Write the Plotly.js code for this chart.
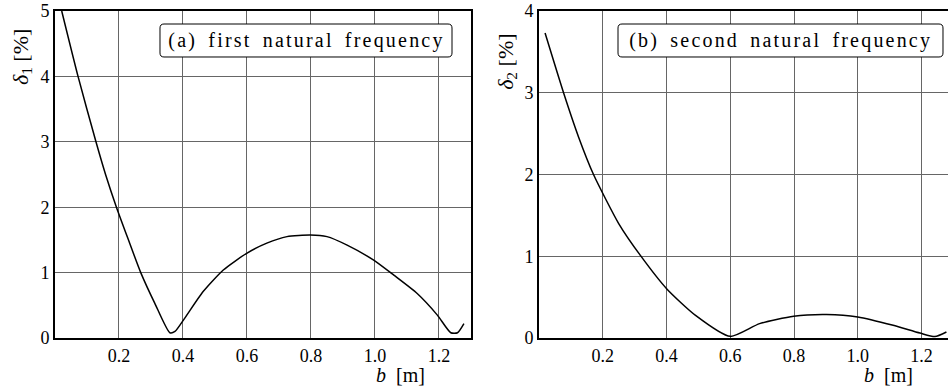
<!DOCTYPE html>
<html>
<head>
<meta charset="utf-8">
<script src="https://cdn.plot.ly/plotly-3.0.1.min.js"></script>
<style>
html,body{margin:0;padding:0;background:#fff;}
#chart{width:948px;height:389px;}
svg text{font-family:"Liberation Serif","Tinos","Nimbus Roman","Nimbus Roman No9 L","FreeSerif","Noto Serif","DejaVu Serif","Times New Roman",Times,serif !important;}
.annotation[data-index="0"] .annotation-text,
.annotation[data-index="1"] .annotation-text{letter-spacing:2.2px;word-spacing:4px;}
</style>
</head>
<body>
<div id="chart"></div>
<script>
// Panel (a): first natural frequency
const b1 = [0.021, 0.072, 0.128, 0.158, 0.192, 0.228, 0.268, 0.312, 0.359, 0.375, 0.405, 0.463, 0.526, 0.599, 0.662, 0.725, 0.798, 0.85, 0.913, 0.996, 1.059, 1.132, 1.195, 1.237, 1.258, 1.278];
const delta1 = [5.0, 4.0, 3.0, 2.5, 2.0, 1.52, 1.0, 0.53, 0.08, 0.1, 0.3, 0.71, 1.04, 1.295, 1.45, 1.55, 1.575, 1.55, 1.42, 1.19, 0.96, 0.68, 0.35, 0.08, 0.08, 0.22];
// Panel (b): second natural frequency
const b2 = [0.019, 0.077, 0.124, 0.171, 0.25, 0.318, 0.401, 0.49, 0.6, 0.692, 0.799, 0.902, 1.0, 1.111, 1.195, 1.242, 1.278];
const delta2 = [3.73, 3.0, 2.46, 2.0, 1.40, 1.01, 0.60, 0.28, 0.02, 0.176, 0.266, 0.286, 0.257, 0.155, 0.06, 0.017, 0.073];

const xTickVals = [0.2, 0.4, 0.6, 0.8, 1.0, 1.2];
const xTickText = ['0.2', '0.4', '0.6', '0.8', '1.0', '1.2'];
const y1TickVals = [0, 1, 2, 3, 4, 5];
const y2TickVals = [0, 1, 2, 3, 4];

const panelLabels = ['(a) first natural frequency', '(b) second natural frequency'];
const yTitles = ['<i>δ</i><sub>1</sub> [%]', '<i>δ</i><sub>2</sub> [%]'];
const xTitle = '<i>b</i>  [m]';

const serif = "Liberation Serif, Times New Roman, serif";
const lineStyle = {color: '#000', width: 1.5, shape: 'spline', smoothing: 0.6};

const traces = [
  {x: b1, y: delta1, xaxis: 'x', yaxis: 'y', mode: 'lines', line: lineStyle, hoverinfo: 'skip'},
  {x: b2, y: delta2, xaxis: 'x2', yaxis: 'y2', mode: 'lines', line: lineStyle, hoverinfo: 'skip'}
];

const axisCommon = {
  showline: true, linecolor: '#000', linewidth: 2,
  showgrid: true, gridcolor: '#666', gridwidth: 1,
  zeroline: false, ticks: '', ticklen: 0,
  tickfont: {family: serif, size: 18, color: '#000'},
  fixedrange: true
};

function roundedBox(x0, x1, y0, y1, r) {
  // page pixels converted to paper coordinates
  const W = 893, H = 327, L = 55, B = 338;
  const px = v => ((v - L) / W).toFixed(5);
  const py = v => ((B - v) / H).toFixed(5);
  return 'M ' + px(x0 + r) + ',' + py(y0) +
    ' L ' + px(x1 - r) + ',' + py(y0) +
    ' Q ' + px(x1) + ',' + py(y0) + ' ' + px(x1) + ',' + py(y0 + r) +
    ' L ' + px(x1) + ',' + py(y1 - r) +
    ' Q ' + px(x1) + ',' + py(y1) + ' ' + px(x1 - r) + ',' + py(y1) +
    ' L ' + px(x0 + r) + ',' + py(y1) +
    ' Q ' + px(x0) + ',' + py(y1) + ' ' + px(x0) + ',' + py(y1 - r) +
    ' L ' + px(x0) + ',' + py(y0 + r) +
    ' Q ' + px(x0) + ',' + py(y0) + ' ' + px(x0 + r) + ',' + py(y0) + ' Z';
}

const layout = {
  width: 948, height: 389,
  margin: {l: 55, r: 0, t: 11, b: 51},
  paper_bgcolor: '#fff', plot_bgcolor: '#fff',
  showlegend: false,
  font: {family: serif, color: '#000'},
  xaxis: Object.assign({}, axisCommon, {domain: [0, 0.4658], range: [0, 1.3], mirror: true,
    tickvals: xTickVals, ticktext: xTickText, anchor: 'y'}),
  yaxis: Object.assign({}, axisCommon, {domain: [0, 1], range: [0, 5], mirror: true,
    tickvals: y1TickVals, anchor: 'x'}),
  xaxis2: Object.assign({}, axisCommon, {domain: [0.542, 1], range: [0, 1.283], mirror: true,
    tickvals: xTickVals, ticktext: xTickText, anchor: 'y2'}),
  yaxis2: Object.assign({}, axisCommon, {domain: [0, 1], range: [0, 4], mirror: false,
    tickvals: y2TickVals, anchor: 'x2'}),
  shapes: [
    {type: 'path', xref: 'paper', yref: 'paper', path: roundedBox(160, 452, 24, 57, 4),
     line: {color: '#000', width: 1}, fillcolor: '#fff', layer: 'above'},
    {type: 'path', xref: 'paper', yref: 'paper', path: roundedBox(618, 943, 24, 57, 4),
     line: {color: '#000', width: 1}, fillcolor: '#fff', layer: 'above'}
  ],
  annotations: [
    {text: panelLabels[0], xref: 'paper', yref: 'paper', x: 0.2816, y: 0.9097,
     xanchor: 'center', yanchor: 'middle', showarrow: false,
     font: {family: serif, size: 20, color: '#000'}},
    {text: panelLabels[1], xref: 'paper', yref: 'paper', x: 0.8125, y: 0.9097,
     xanchor: 'center', yanchor: 'middle', showarrow: false,
     font: {family: serif, size: 20, color: '#000'}},
    {text: yTitles[0], xref: 'paper', yref: 'paper', x: -0.037, y: 0.859, textangle: -90,
     xanchor: 'center', yanchor: 'middle', showarrow: false,
     font: {family: serif, size: 22, color: '#000'}},
    {text: yTitles[1], xref: 'paper', yref: 'paper', x: 0.506, y: 0.844, textangle: -90,
     xanchor: 'center', yanchor: 'middle', showarrow: false,
     font: {family: serif, size: 22, color: '#000'}},
    {text: xTitle, xref: 'paper', yref: 'paper', x: 0.387, y: -0.112,
     xanchor: 'center', yanchor: 'middle', showarrow: false,
     font: {family: serif, size: 20, color: '#000'}},
    {text: xTitle, xref: 'paper', yref: 'paper', x: 0.933, y: -0.112,
     xanchor: 'center', yanchor: 'middle', showarrow: false,
     font: {family: serif, size: 20, color: '#000'}}
  ]
};

Plotly.newPlot('chart', traces, layout, {displayModeBar: false, staticPlot: true});
</script>
</body>
</html>
